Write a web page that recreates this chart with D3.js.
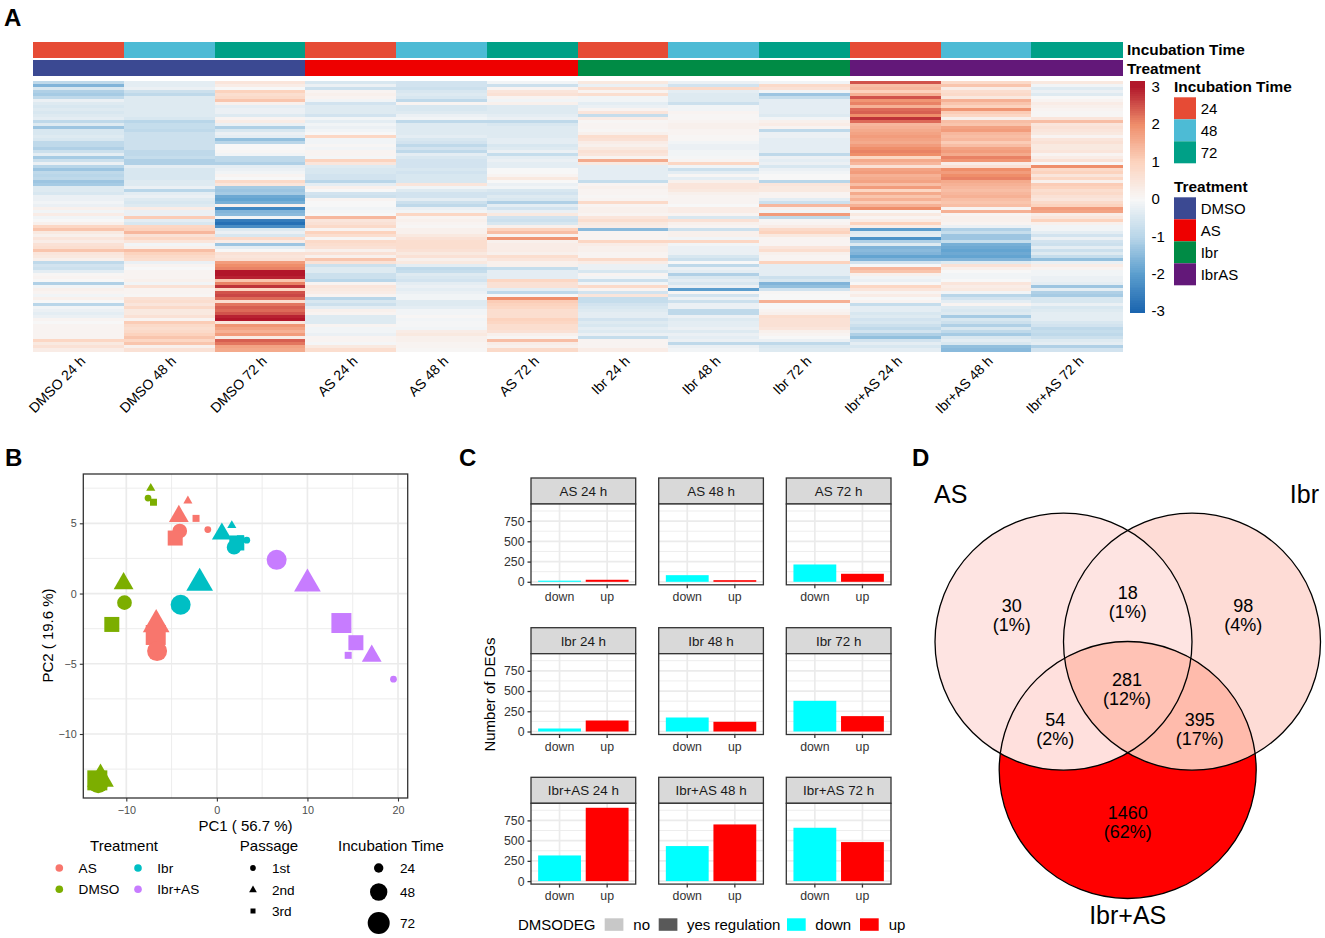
<!DOCTYPE html>
<html><head><meta charset="utf-8">
<script src="https://cdn.jsdelivr.net/npm/d3@7"></script>
<style>
html,body{margin:0;padding:0;background:#fff}
svg{display:block}
text{font-family:"Liberation Sans",Arial,sans-serif}
</style></head><body>
<svg id="chart" width="1325" height="938"></svg>
<script>
// ---------- Panel A data ----------
const heatConditions = ["DMSO 24 h","DMSO 48 h","DMSO 72 h","AS 24 h","AS 48 h","AS 72 h","Ibr 24 h","Ibr 48 h","Ibr 72 h","Ibr+AS 24 h","Ibr+AS 48 h","Ibr+AS 72 h"];
const heatTimes = ["24","48","72","24","48","72","24","48","72","24","48","72"];
const heatTreatments = ["DMSO","DMSO","DMSO","AS","AS","AS","Ibr","Ibr","Ibr","IbrAS","IbrAS","IbrAS"];
const timeLevels = ["24","48","72"];
const timeColors = ["#E64B35","#4DBBD5","#00A087"];
const treatmentLevels = ["DMSO","AS","Ibr","IbrAS"];
const treatmentColors = ["#3B4992","#EE0000","#008B45","#631879"];
const heatTicks = [3,2,1,0,-1,-2,-3];
const heatStops = [-3,-2,-1,0,1,2,3];
const heatStopColors = ["#1B65AF","#5B9ECE","#B9D6E9","#F7F7F7","#FCD3BE","#EF8E6B","#B2182B"];

const dmso24 = [-.9,-1.6,-.5,-1.1,-1.2,-.9,-.2,-.4,-.5,-.4, -.5,-.4,-.3,-.9,-.4,-1.3,-.5,-.5,-.4,-.5, -.9,-.9,-1.1,-.7,-.3,-1.2,-.7,-.2,-1.0,-1.3, -.9,-1.0,-.9,-1.3,-1.2,-.4,-.4,-.5,-.2,-.2, -.1,-.2,.2,-.1,.3,-.1,0,.2,.9,1.2, .4,.2,.5,.3,.6,.7,1.2,.5,.4,.2, -.9,-.6,-.7,-.3,.05,.1,0,-1.1,-.1,.2, .1,-.1,.2,0,-1.0,-.1,-.2,-.3,-.2,.1, 0,.1,.1,.1,.1,.1,.9,.4,.6,.3];
const dmso48 = [-.3,-.3,-.2,-.7,-.9,-.4,-.4,-.4,-.4,-.4, -.4,-.4,-.5,-1.0,-.8,-.8,-.9,-.7,-.7,-.7, -.7,-.7,-.7,-.9,-.9,-.8,-1.1,-1.1,-.3,-.5, -.5,-.5,-.5,-.4,-.4,-.2,-1.0,-.3,-.2,-.4, -.5,-.4,.3,-.2,-.2,1.1,-.3,-.5,.9,1.0, 1.4,.6,.9,.5,-.1,.2,1.3,1.0,.8,.7, -.2,.1,0,.1,.1,.1,.2,-.1,.6,.1, .1,.05,.6,.7,.5,.8,.4,.4,.6,.1, 1.1,.8,.7,.8,1.0,1.2,.9,1.2,.2,.6];
const dmso72 = [.5,.3,0,1.0,.7,.8,1.2,.2,-.3,-.2, -.2,-.4,.1,.3,-.2,-1.1,-.5,-.2,-.3,-1.4, -1.0,0,0,.05,-.1,-.9,-.9,-1.1,-.3,-.2, -.1,.1,0,.8,.5,-1.2,-1.3,-1.2,-1.8,-1.9, -1.7,.2,-2.4,-1.6,-1.5,-.1,-2.6,-2.8,-2.3,-.4, -.2,-.5,.8,.3,-1.3,-.3,0,.6,.5,.6, 1.8,2.0,2.1,3.0,3.0,2.9,1.2,2.1,2.8,.9, 2.5,2.6,2.3,.7,2.2,2.4,2.3,2.5,2.9,3.0, .5,1.9,1.7,1.5,1.8,.3,2.4,2.2,1.7,1.6];
const as24 = [-.5,-.2,-.7,.1,.2,.1,-.1,-.6,-.4,-.4, -.4,-.6,-.1,-.3,-.1,-.2,-.1,0,.9,-.1, -.1,.05,-.1,.1,.1,-.05,1.0,.5,-.4,-.5, -.5,-.6,-.6,-1.0,-.3,.2,0,-.6,-.7,.1, 0,0,-.1,-.05,0,1.4,.5,.6,.8,.1, 1.0,.7,.05,.8,.7,.6,.2,.6,.2,1.2, .6,-.7,-.4,-.4,-.7,-.7,-1.0,.1,.5,.4, .3,.1,-1.0,-.5,-.7,-.3,.2,.1,-.4,-.4, -.4,.1,-.1,-.1,-.2,.1,.1,-.05,.4,.7];
const as48 = [-.6,-.6,-.7,-.5,-.4,-.5,-.9,.1,-.5,-.5, -.4,-.2,-.1,-.9,-.4,-.4,-.4,-.4,-.3,-.5, -.6,-.9,-.6,-.9,-.3,-.5,-.6,-.6,-.6,-.5, -.6,-.5,-.5,-.5,.5,-.1,-.4,-.6,-.6,-.3, -.7,-.9,-.2,-.1,.9,.1,.2,.1,.05,.2, .2,.4,.6,.7,.7,.7,.6,.4,.6,.2, .4,-.3,-.9,-.8,-.4,-.5,-.6,-.3,-.2,-.3, -.2,-.1,-.1,-.4,-.4,-.3,-.1,-.1,.05,-.1, -.05,-.05,-.1,.3,.4,.2,.2,.1,.1,.05];
const as72 = [-.1,-.7,.1,.5,.6,.1,-.1,.2,-.4,-.4, -.4,-.3,-.2,-.9,-.5,-.4,-.4,-.4,-.4,-.3, -.3,-.5,-.4,-.2,-.8,-.3,-.2,-.3,-.3,0, 0,.1,.4,0,-.2,-.1,-.5,-.6,-.4,-.5, -1.1,-.3,-.6,-.2,.4,-.6,-.7,-.5,.2,1.0, 1.3,.1,1.9,.2,.3,.3,.3,.2,.7,.5, .2,.2,-.8,-.3,-.3,-.3,.9,.6,.6,-.3, -.9,0,2.0,1.1,1.0,.9,.7,.7,.7,1.0, .9,.7,.7,.6,.2,.05,1.3,.3,.2,.8];
const ibr24 = [.4,-.2,.7,.1,.7,-.1,-.1,-.3,-.2,.1, .5,-.8,.3,.05,.1,.1,.05,.2,.7,.6, .3,.2,.4,.6,.5,.1,1.6,.4,-.3,-.3, -.3,-.3,-.3,-.8,.1,.2,.1,.1,.05,.1, .8,.1,.2,.2,.1,.5,.7,.4,.3,-1.5, .1,.1,.1,.9,.3,.2,.2,.1,.1,.8, .3,-.2,-.2,-.5,.1,-.1,-.7,-.1,.8,.1, -.6,.5,-.8,-.8,-.6,-.5,-.4,-.3,-.3,-.6, -.4,-.5,-.3,-.4,-.2,-.8,.1,.1,.1,.3];
const ibr48 = [-.2,-.6,.8,-.3,-.4,-.4,-.4,-.7,-.1,-.1, .1,.05,.05,.1,.2,.2,.1,.1,.05,.05, -.1,-.2,-.2,-.1,-.1,-.05,.1,.9,-.1,-.7, -.3,.05,-.3,.2,.5,.5,.4,.2,.1,.1, .1,0,.3,.3,.1,-.5,.6,.2,.1,-.7, .2,.2,-.1,.9,-.1,-.2,-.2,-.2,-.5,-.7, 0,-.9,-.2,-.3,-1.1,-.5,-.3,-.5,-.2,-2.0, .05,-.6,-.2,-.7,-.2,-.2,-.9,-.9,-.2,-.4, -.3,-.3,-.2,-.4,-.2,-.3,-.2,-.9,-.2,-.1];
const ibr72 = [-.1,.8,.6,-.1,-1.3,-.8,-.3,-.3,-.3,-.3, -.3,-.4,-.1,.2,.3,.1,-.9,-.2,-.2,-.3, -.3,-.3,-.3,-.3,-.9,-.2,-.3,-.2,-.5,-.2, -.1,0,0,-1.0,.5,.4,.4,.1,.1,-.3, -.7,1.4,.2,-.1,1.8,-.9,.05,.1,.3,.8, 1.0,.4,.1,.1,.1,.5,.7,.2,.1,.1, 1.0,-.3,-.3,-.3,-.3,-.7,-.5,-1.6,-1.4,-.6, .05,0,0,1.5,0,0,.1,.2,.7,.6, .6,.6,.5,.2,.1,0,-.2,-.9,-.5,-.4];
const ibras24 = [2.5,1.3,1.4,1.0,1.5,2.5,1.9,2.1,1.5,2.3, 2.4,2.0,2.8,2.3,1.4,1.5,1.6,1.7,1.8,1.7, 1.6,1.8,2.0,2.1,2.0,.9,1.6,1.4,.6,1.7, 1.8,1.5,1.6,1.7,1.3,1.8,.9,1.6,1.2,1.5, 1.1,1.5,2.0,0,.4,.1,.3,1.0,.3,-2.0, -.4,-.3,-2.2,-1.1,-.4,-1.6,-1.5,-1.6,-1.9,-1.6, -.6,0,1.4,1.2,.2,-.1,-.2,0,.9,.5, .1,.3,0,.1,-.8,-.3,-.3,-.5,-.4,-.6, -.5,-.7,-.9,-.6,-1.1,-1.4,-.6,-.3,-.5,-.3];
const ibras48 = [.8,1.2,.3,.7,.8,.4,1.5,1.2,1.0,1.9, 1.1,.9,.2,1.3,1.2,1.7,1.8,1.4,1.3,1.4, 1.1,1.3,1.7,1.8,1.6,2.1,1.9,.3,.6,2.0, 1.8,2.0,2.1,1.6,1.5,1.4,1.3,1.4,1.5,1.3, 1.2,1.3,.1,1.5,.1,.2,.2,.1,-.2,-1.1, -.8,-1.3,-1.3,-.8,-1.7,-1.8,-1.9,-1.8,-1.9,-1.6, -.4,.6,.2,0,-.1,-.1,0,.5,.3,.4, -.1,-1.0,-.6,-.3,.1,-.4,-.5,-.4,-1.2,-.5, -.7,-1.1,-.5,-.9,-1.2,-.5,-.3,-.5,-1.4,-1.5];
const ibras72 = [.4,-.1,-.4,-.2,-.4,0,.1,.3,.2,.1, .05,.05,.5,1.3,.5,.6,.5,.4,.1,.5, .6,.4,.4,.5,.1,.3,.6,0,2.0,.8, 1.0,.5,.9,.2,1.1,1.0,.7,.8,.6,.5, .8,1.0,1.8,1.7,.3,.5,1.0,.2,-.1,-.1, -.3,-.6,-.2,-.6,-.7,-.3,-.7,-.4,-.8,-1.4, -.2,.3,.1,-.1,-.1,-.2,-.2,-.3,-1.3,-.3, -1.1,-1.2,-.5,-.5,-.2,-.5,-.4,-.3,-.3,-.3, -.5,-.6,-.9,-.8,-.9,-.7,-.4,-.3,-1.1,-.6];
const heatColumns = [dmso24,dmso48,dmso72,as24,as48,as72,ibr24,ibr48,ibr72,ibras24,ibras48,ibras72];

// ---------- Panel B data ----------
const pcaTreatment = ["DMSO","DMSO","DMSO","DMSO","DMSO","DMSO","DMSO","DMSO","DMSO","AS","AS","AS","AS","AS","AS","AS","AS","AS","Ibr","Ibr","Ibr","Ibr","Ibr","Ibr","Ibr","Ibr","Ibr+AS","Ibr+AS","Ibr+AS","Ibr+AS","Ibr+AS","Ibr+AS","Ibr+AS"];
const pcaPassage = ["2nd","1st","3rd","2nd","1st","3rd","3rd","2nd","1st","2nd","3rd","1st","2nd","1st","3rd","2nd","3rd","1st","2nd","1st","3rd","2nd","3rd","1st","2nd","1st","1st","2nd","3rd","3rd","2nd","3rd","1st"];
const pcaTime = ["24","24","24","48","48","48","72","72","72","24","24","24","48","48","48","72","72","72","24","24","24","48","48","48","72","72","72","72","72","48","48","24","24"];
const pcaX = [-7.3,-7.6,-7,-10.3,-10.2,-11.6,-13.2,-12.85,-13.1,-3.2,-2.3,-1,-4.2,-4.1,-4.6,-6.7,-6.75,-6.6,1.65,3.3,2.6,.55,2.2,1.9,-1.9,-4,6.6,10,13.75,15.35,17.1,14.5,19.5];
const pcaY = [7.5,6.8,6.5,.71,-.65,-2.2,-13.3,-13.2,-13.5,6.6,5.35,4.55,5.5,4.45,3.95,-2.2,-2.95,-4.1,4.85,3.8,3.9,4.25,3.6,3.3,.74,-.8,2.4,.69,-2.1,-3.5,-4.45,-4.4,-6.1];
const pcaLevels = ["AS","DMSO","Ibr","Ibr+AS"];
const pcaColors = ["#F8766D","#7CAE00","#00BFC4","#C77CFF"];
const passageLevels = ["1st","2nd","3rd"];
const pcaXTicks = [-10,0,10,20];
const pcaYTicks = [-10,-5,0,5];
const pcaXMinor = [-5,5,15];
const pcaYMinor = [-12.5,-7.5,-2.5,2.5,7.5];

// ---------- Panel C data ----------
const degPanels = ["AS 24 h","AS 48 h","AS 72 h","Ibr 24 h","Ibr 48 h","Ibr 72 h","Ibr+AS 24 h","Ibr+AS 48 h","Ibr+AS 72 h"];
const degDown = [14,82,214,37,173,379,317,433,659];
const degUp = [25,20,99,136,120,190,906,700,482];
const degCats = ["down","up"];
const degColors = ["#00FFFF","#FF0000"];
const degTicks = [0,250,500,750];
const degMinor = [125,375,625,875];

// ---------- Panel D data ----------
const vennCounts = ["30","98","18","281","54","395","1460"];
const vennPcts = ["(1%)","(4%)","(1%)","(12%)","(2%)","(17%)","(62%)"];

// ---------- Drawing ----------
const svg = d3.select("#chart");
const FS = "Liberation Sans";
const defs=svg.append("defs");
defs.append("filter").attr("id","soft").attr("x","0").attr("y","0").attr("width","1").attr("height","1")
    .append("feGaussianBlur").attr("stdDeviation","0 0.45");

// Panel letters
svg.selectAll("text.letter").data([["A",4,26],["B",5,466],["C",459,466],["D",912,466]]).join("text")
  .attr("class","letter").attr("x",d=>d[1]).attr("y",d=>d[2]).attr("font-size",24).attr("font-weight","bold").text(d=>d[0]);

// --- Panel A ---
const hx = d3.scaleBand().domain(d3.range(12)).range([33,1122]);
const hy = d3.scaleBand().domain(d3.range(90)).range([81,351.5]);
const heatColor = d3.scaleLinear().domain(heatStops).range(heatStopColors).clamp(true);
const timeColor = d3.scaleOrdinal(timeLevels,timeColors);
const treatColor = d3.scaleOrdinal(treatmentLevels,treatmentColors);
const A = svg.append("g");
const annot = A.append("g").attr("shape-rendering","crispEdges");
annot.selectAll("rect.t").data(heatTimes).join("rect").attr("class","t").attr("x",(d,i)=>hx(i)).attr("y",42).attr("width",hx.bandwidth()+.6).attr("height",16).attr("fill",d=>timeColor(d));
annot.selectAll("rect.tr").data(heatTreatments).join("rect").attr("class","tr").attr("x",(d,i)=>hx(i)).attr("y",60).attr("width",hx.bandwidth()+.6).attr("height",16).attr("fill",d=>treatColor(d));
const heatG = A.append("g").attr("filter","url(#soft)");
heatColumns.forEach((col,c)=>{
  heatG.append("g").attr("shape-rendering","crispEdges").selectAll("rect").data(col).join("rect")
   .attr("x",hx(c)).attr("y",(d,i)=>hy(i)).attr("width",hx.bandwidth()+.6).attr("height",hy.bandwidth()+.5).attr("fill",d=>heatColor(d));
});
A.selectAll("text.col").data(heatConditions).join("text").attr("class","col")
  .attr("transform",(d,i)=>`translate(${hx(i)+hx.bandwidth()/2+8},362) rotate(-45)`)
  .attr("text-anchor","end").attr("font-size",14).text(d=>d);
A.append("text").attr("x",1127).attr("y",55).attr("font-size",15.4).attr("font-weight","bold").text("Incubation Time");
A.append("text").attr("x",1127).attr("y",73.5).attr("font-size",15.4).attr("font-weight","bold").text("Treatment");
// colour bar
const barY = d3.scaleLinear().domain([3,-3]).range([86.7,311]);
const barCells = d3.range(3.15,-3.001,-0.05);
A.append("g").attr("shape-rendering","crispEdges").selectAll("rect").data(barCells).join("rect")
 .attr("x",1130.3).attr("width",15).attr("y",d=>barY(d)-.2).attr("height",2.4).attr("fill",d=>heatColor(d));
A.selectAll("text.bt").data(heatTicks).join("text").attr("class","bt").attr("x",1151.5).attr("y",d=>barY(d)).attr("dy",".36em").attr("font-size",15).text(d=>d);
// legends A
A.append("text").attr("x",1174).attr("y",92).attr("font-size",15.4).attr("font-weight","bold").text("Incubation Time");
A.append("text").attr("x",1174).attr("y",191.5).attr("font-size",15.4).attr("font-weight","bold").text("Treatment");
const lgY1 = d3.scaleBand().domain(timeLevels).range([97.3,163.3]);
const lgY2 = d3.scaleBand().domain(treatmentLevels).range([197.3,285.3]);
A.selectAll("rect.l1").data(timeLevels).join("rect").attr("class","l1").attr("x",1174).attr("y",d=>lgY1(d)).attr("width",22).attr("height",lgY1.bandwidth()).attr("fill",d=>timeColor(d));
A.selectAll("text.l1").data(timeLevels).join("text").attr("class","l1").attr("x",1200.7).attr("y",d=>lgY1(d)+11).attr("dy",".36em").attr("font-size",15).text(d=>d);
A.selectAll("rect.l2").data(treatmentLevels).join("rect").attr("class","l2").attr("x",1174).attr("y",d=>lgY2(d)).attr("width",22).attr("height",lgY2.bandwidth()).attr("fill",d=>treatColor(d));
A.selectAll("text.l2").data(treatmentLevels).join("text").attr("class","l2").attr("x",1200.7).attr("y",d=>lgY2(d)+11).attr("dy",".36em").attr("font-size",15).text(d=>d);

// --- Panel B ---
const px = d3.scaleLinear().domain([-10,20]).range([126.3,398]);
const py = d3.scaleLinear().domain([-10,5]).range([734,523.3]);
const pL=83.3,pR=407.7,pT=474,pB=798;
const B = svg.append("g");
B.append("rect").attr("x",pL).attr("y",pT).attr("width",pR-pL).attr("height",pB-pT).attr("fill","#fff");
const grid=(g,xs,ys,w)=>{
  g.selectAll(null).data(xs).join("line").attr("x1",d=>px(d)).attr("x2",d=>px(d)).attr("y1",pT).attr("y2",pB).attr("stroke","#EBEBEB").attr("stroke-width",w);
  g.selectAll(null).data(ys).join("line").attr("y1",d=>py(d)).attr("y2",d=>py(d)).attr("x1",pL).attr("x2",pR).attr("stroke","#EBEBEB").attr("stroke-width",w);
};
grid(B.append("g"),pcaXMinor,pcaYMinor,.9);
grid(B.append("g"),pcaXTicks,pcaYTicks,1.7);
const pcaColor=d3.scaleOrdinal(pcaLevels,pcaColors);
const shapeOf={"1st":d3.symbolCircle,"2nd":d3.symbolTriangle,"3rd":d3.symbolSquare};
const areaOf={"24":{"1st":36,"2nd":36,"3rd":49},"48":{"1st":170,"2nd":170,"3rd":225},"72":{"1st":314,"2nd":309,"3rd":400}};
B.selectAll("path.pt").data(pcaX.map((x,i)=>i)).join("path").attr("class","pt")
  .attr("d",i=>d3.symbol(shapeOf[pcaPassage[i]],areaOf[pcaTime[i]][pcaPassage[i]])())
  .attr("transform",i=>`translate(${px(pcaX[i])},${py(pcaY[i])})`)
  .attr("fill",i=>pcaColor(pcaTreatment[i]));
B.append("rect").attr("x",pL).attr("y",pT).attr("width",pR-pL).attr("height",pB-pT).attr("fill","none").attr("stroke","#333").attr("stroke-width",1.3);
const ax=B.append("g").attr("transform",`translate(0,${pB})`).call(d3.axisBottom(px).tickValues(pcaXTicks).tickSize(3.5).tickPadding(5));
const ay=B.append("g").attr("transform",`translate(${pL},0)`).call(d3.axisLeft(py).tickValues(pcaYTicks).tickSize(3.5).tickPadding(3));
[ax,ay].forEach(a=>{a.select(".domain").remove();a.selectAll("line").attr("stroke","#333").attr("stroke-width",1.1);a.selectAll("text").attr("font-size",10.8).attr("fill","#4D4D4D").attr("font-family",FS);});
B.append("text").attr("x",245.5).attr("y",831).attr("text-anchor","middle").attr("font-size",15).text("PC1 ( 56.7 %)");
B.append("text").attr("transform","translate(53,635.5) rotate(-90)").attr("text-anchor","middle").attr("font-size",15).text("PC2 ( 19.6 %)");
// legends B
B.append("text").attr("x",124).attr("y",851).attr("text-anchor","middle").attr("font-size",15).text("Treatment");
B.append("text").attr("x",269).attr("y",851).attr("text-anchor","middle").attr("font-size",15).text("Passage");
B.append("text").attr("x",391).attr("y",851).attr("text-anchor","middle").attr("font-size",15).text("Incubation Time");
const tLegX=[59.3,59.3,138,138], tLegY=[868,889.3,868,889.3];
pcaLevels.forEach((k,i)=>{
  B.append("circle").attr("cx",tLegX[i]).attr("cy",tLegY[i]).attr("r",3.8).attr("fill",pcaColor(k));
  B.append("text").attr("x",tLegX[i]+19.3).attr("y",tLegY[i]).attr("dy",".36em").attr("font-size",13.6).text(k);
});
const passY=[868,890,911];
passageLevels.forEach((k,i)=>{
  B.append("path").attr("d",d3.symbol(shapeOf[k],k==="3rd"?25:26)()).attr("transform",`translate(253,${passY[i]})`);
  B.append("text").attr("x",272).attr("y",passY[i]).attr("dy",".36em").attr("font-size",13.6).text(k);
});
const sizeY=[868,892,923], sizeR=[4.7,8.7,11];
timeLevels.forEach((k,i)=>{
  B.append("circle").attr("cx",378.7).attr("cy",sizeY[i]).attr("r",sizeR[i]).attr("fill","#000");
  B.append("text").attr("x",400).attr("y",sizeY[i]).attr("dy",".36em").attr("font-size",13.6).text(k);
});

// --- Panel C ---
const C=svg.append("g");
const colX=[531,658.7,786.3], rowT=[478,627.7,777.3], pW=104.7, stripH=26, bodyH=80.8;
const bx=d3.scaleBand().domain(degCats).range([0,pW]).paddingInner(.1).paddingOuter(.15);
const by=d3.scaleLinear().domain([0,750]).range([bodyH-3,bodyH-3-60.7]);
const catColor=d3.scaleOrdinal(degCats,degColors);
degPanels.forEach((name,i)=>{
  const g=C.append("g").attr("transform",`translate(${colX[i%3]},${rowT[Math.floor(i/3)]})`);
  g.append("rect").attr("width",pW).attr("height",stripH).attr("fill","#D9D9D9").attr("stroke","#333").attr("stroke-width",1.3);
  g.append("text").attr("x",pW/2).attr("y",stripH/2).attr("dy",".36em").attr("text-anchor","middle").attr("font-size",13.4).attr("fill","#1A1A1A").text(name);
  const b=g.append("g").attr("transform",`translate(0,${stripH})`);
  b.append("rect").attr("width",pW).attr("height",bodyH).attr("fill","#fff");
  b.selectAll(null).data(degMinor).join("line").attr("x1",0).attr("x2",pW).attr("y1",d=>by(d)).attr("y2",d=>by(d)).attr("stroke","#EBEBEB").attr("stroke-width",.9);
  b.selectAll(null).data(degTicks).join("line").attr("x1",0).attr("x2",pW).attr("y1",d=>by(d)).attr("y2",d=>by(d)).attr("stroke","#EBEBEB").attr("stroke-width",1.7);
  b.selectAll(null).data(degCats).join("line").attr("x1",d=>bx(d)+bx.bandwidth()/2).attr("x2",d=>bx(d)+bx.bandwidth()/2).attr("y1",0).attr("y2",bodyH).attr("stroke","#EBEBEB").attr("stroke-width",1.7);
  const vals=[degDown[i],degUp[i]];
  b.selectAll("rect.bar").data(degCats).join("rect").attr("class","bar").attr("x",d=>bx(d)).attr("width",bx.bandwidth())
    .attr("y",(d,j)=>by(vals[j])).attr("height",(d,j)=>by(0)-by(vals[j])).attr("fill",d=>catColor(d));
  b.append("rect").attr("width",pW).attr("height",bodyH).attr("fill","none").attr("stroke","#333").attr("stroke-width",1.3);
  const xa=b.append("g").attr("transform",`translate(0,${bodyH})`).call(d3.axisBottom(bx).tickSize(3.5).tickPadding(4));
  const axes=[xa];
  if(i%3===0){ axes.push(b.append("g").call(d3.axisLeft(by).tickValues(degTicks).tickSize(3.5).tickPadding(3).tickFormat(d3.format("d")))); }
  axes.forEach(a=>{a.select(".domain").remove();a.selectAll("line").attr("stroke","#333").attr("stroke-width",1.3);a.selectAll("text").attr("font-size",12.3).attr("fill","#333").attr("font-family",FS);});
});
C.append("text").attr("transform","translate(495,694.5) rotate(-90)").attr("text-anchor","middle").attr("font-size",15).text("Number of DEGs");
const legKeys=["no","yes","down","up"], legFill=["#C8C8C8","#595959","#00FFFF","#FF0000"], legX=[604.7,658.7,787,860], legTextX=[633.3,687,815.3,888.7];
legKeys.forEach((k,i)=>{
  C.append("rect").attr("x",legX[i]).attr("y",918.3).attr("width",18.7).attr("height",12.5).attr("fill",legFill[i]);
  C.append("text").attr("x",legTextX[i]).attr("y",930).attr("font-size",15).text(k==="yes"?"yes regulation":k);
});
C.append("text").attr("x",518).attr("y",930).attr("font-size",15).text("DMSODEG");

// --- Panel D ---
const D=svg.append("g");
const circleNames=["AS","Ibr","Ibr+AS"], circleX=[1063.5,1192,1127.7], circleY=[641.7,641.7,770], circleR=128.5;
circleNames.forEach((n,i)=>defs.append("clipPath").attr("id","vc"+i).append("circle").attr("cx",circleX[i]).attr("cy",circleY[i]).attr("r",circleR));
const vc=(i,fill,parent)=>(parent||D).append("circle").attr("cx",circleX[i]).attr("cy",circleY[i]).attr("r",circleR).attr("fill",fill);
vc(0,"#FEE4E2"); vc(1,"#FEDCD6");
vc(1,"#FEE4E2").attr("clip-path","url(#vc0)");
vc(2,"#FF0000");
vc(2,"#FFE0DD").attr("clip-path","url(#vc0)");
vc(2,"#FFBBAC").attr("clip-path","url(#vc1)");
const triple=D.append("g").attr("clip-path","url(#vc1)");
vc(2,"#FFC2B5",triple).attr("clip-path","url(#vc0)");
circleNames.forEach((n,i)=>vc(i,"none").attr("stroke","#000").attr("stroke-width",1.3));
const vennLX=[1011.7,1243.3,1127.7,1127,1055.3,1199.7,1127.7], vennLY=[605.7,605.7,592.7,679.3,719.3,719.3,812.7];
vennCounts.forEach((c,i)=>{
  D.append("text").attr("x",vennLX[i]).attr("y",vennLY[i]).attr("dy",".36em").attr("text-anchor","middle").attr("font-size",18).text(c);
  D.append("text").attr("x",vennLX[i]).attr("y",vennLY[i]+19).attr("dy",".36em").attr("text-anchor","middle").attr("font-size",18).text(vennPcts[i]);
});
D.append("text").attr("x",934).attr("y",503).attr("font-size",25).text("AS");
D.append("text").attr("x",1319).attr("y",503).attr("text-anchor","end").attr("font-size",25).text("Ibr");
D.append("text").attr("x",1127.7).attr("y",923.5).attr("text-anchor","middle").attr("font-size",25).text("Ibr+AS");
</script>
</body></html>
